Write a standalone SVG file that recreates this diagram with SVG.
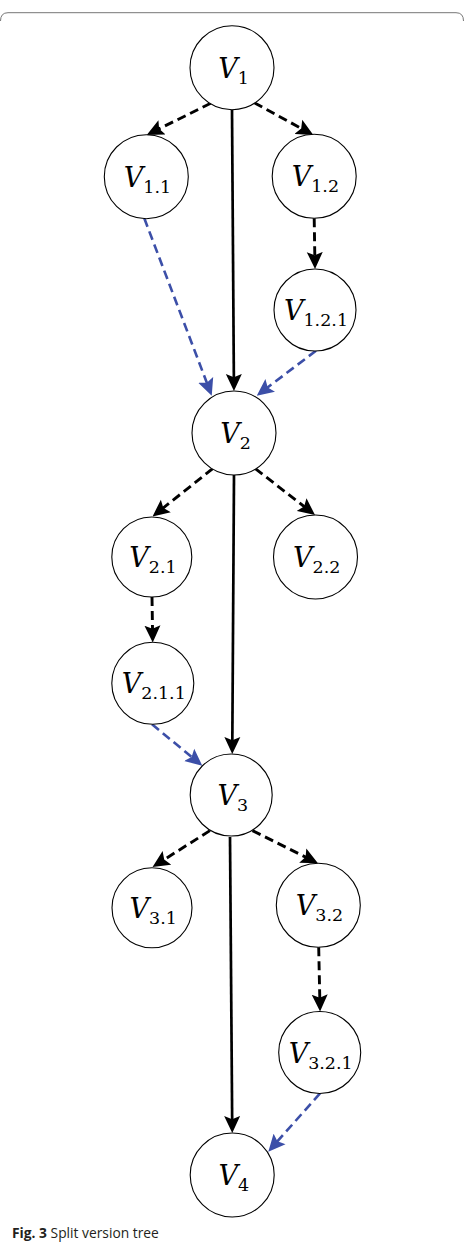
<svg xmlns="http://www.w3.org/2000/svg" width="464" height="1244" viewBox="0 0 464 1244">
  <style>
    .node circle { fill: #ffffff; stroke: #000000; stroke-width: 1.1; }
    .node text { font-family: "DejaVu Serif", "Liberation Serif", serif; font-size: 27px; fill: #000000; text-anchor: middle; }
    .node .v { font-style: italic; }
    .node .s { font-size: 17.5px; font-style: normal; }
    .solid { stroke: #000000; stroke-width: 2.7; fill: none; }
    .dash { stroke: #000000; stroke-width: 2.9; fill: none; stroke-dasharray: 9 5; }
    .blue { stroke: #3c4fa8; stroke-width: 2.6; fill: none; stroke-dasharray: 9 5; }
    .caption { font-family: "Open Sans", "Liberation Sans", sans-serif; font-size: 13.8px; fill: #231f20; }
  </style>
  <defs>
    <marker id="ab" markerUnits="userSpaceOnUse" viewBox="0 0 17 17" refX="9" refY="8.5" markerWidth="17" markerHeight="17" orient="auto">
      <path d="M0,0.5 L17,8.5 L0,16.5 L3.2,8.5 z" fill="#000000"/>
    </marker>
    <marker id="au" markerUnits="userSpaceOnUse" viewBox="0 0 17 17" refX="9" refY="8.5" markerWidth="17" markerHeight="17" orient="auto">
      <path d="M0,0.5 L17,8.5 L0,16.5 L3.2,8.5 z" fill="#3c4fa8"/>
    </marker>
  </defs>

  <path d="M0.5,21 Q0.5,12.7 8,12.7 H456 Q463.5,12.7 463.5,21" fill="none" stroke="#777777" stroke-width="1"/>

  <g id="connectors">
    <line class="dash" x1="210.7" y1="103.3" x2="153.9" y2="131.4" marker-end="url(#ab)"/>
    <line class="dash" x1="254.3" y1="102.7" x2="306.3" y2="131.2" marker-end="url(#ab)"/>
    <line class="solid" x1="232" y1="109.7" x2="233.9" y2="383" marker-end="url(#ab)"/>
    <line class="dash" x1="314.2" y1="218.3" x2="314.9" y2="261" marker-end="url(#ab)"/>
    <line class="blue" x1="144.3" y1="218.3" x2="208.9" y2="388.2" marker-end="url(#au)"/>
    <line class="blue" x1="316" y1="350.7" x2="263.1" y2="390.9" marker-end="url(#au)"/>
    <line class="dash" x1="212.7" y1="468.6" x2="158.8" y2="511.5" marker-end="url(#ab)"/>
    <line class="dash" x1="255.3" y1="468.6" x2="308.7" y2="510.1" marker-end="url(#ab)"/>
    <line class="solid" x1="234" y1="475" x2="232.3" y2="746" marker-end="url(#ab)"/>
    <line class="dash" x1="152" y1="597" x2="152.6" y2="634.5" marker-end="url(#ab)"/>
    <line class="blue" x1="152" y1="724.3" x2="196.1" y2="760.6" marker-end="url(#au)"/>
    <line class="dash" x1="209.9" y1="830.6" x2="159.3" y2="862.7" marker-end="url(#ab)"/>
    <line class="dash" x1="252.5" y1="830.6" x2="310.8" y2="859.7" marker-end="url(#ab)"/>
    <line class="solid" x1="230" y1="837" x2="232.2" y2="1125" marker-end="url(#ab)"/>
    <line class="dash" x1="318.7" y1="947.3" x2="319.9" y2="1003.5" marker-end="url(#ab)"/>
    <line class="blue" x1="320" y1="1093.3" x2="273.6" y2="1145.7" marker-end="url(#au)"/>
  </g>

  <g id="V1" class="node">
    <circle cx="232" cy="67.7" r="42"/>
    <text x="233.5" y="77.7"><tspan class="v">V</tspan><tspan class="s" dy="6">1</tspan></text>
  </g>
  <g id="V1.1" class="node">
    <circle cx="146.3" cy="176.7" r="42"/>
    <text x="147.5" y="186.7"><tspan class="v">V</tspan><tspan class="s" dy="6">1.1</tspan></text>
  </g>
  <g id="V1.2" class="node">
    <circle cx="314.2" cy="176.3" r="42"/>
    <text x="315.4" y="186.3"><tspan class="v">V</tspan><tspan class="s" dy="6">1.2</tspan></text>
  </g>
  <g id="V1.2.1" class="node">
    <circle cx="315" cy="310" r="41"/>
    <text x="316" y="320"><tspan class="v">V</tspan><tspan class="s" dy="6">1.2.1</tspan></text>
  </g>
  <g id="V2" class="node">
    <circle cx="234" cy="433" r="42"/>
    <text x="235.5" y="443"><tspan class="v">V</tspan><tspan class="s" dy="6">2</tspan></text>
  </g>
  <g id="V2.1" class="node">
    <circle cx="151.8" cy="557" r="40"/>
    <text x="153" y="567"><tspan class="v">V</tspan><tspan class="s" dy="6">2.1</tspan></text>
  </g>
  <g id="V2.2" class="node">
    <circle cx="315.5" cy="557" r="42"/>
    <text x="316.7" y="567"><tspan class="v">V</tspan><tspan class="s" dy="6">2.2</tspan></text>
  </g>
  <g id="V2.1.1" class="node">
    <circle cx="152.8" cy="683.3" r="41"/>
    <text x="153.8" y="693.3"><tspan class="v">V</tspan><tspan class="s" dy="6">2.1.1</tspan></text>
  </g>
  <g id="V3" class="node">
    <circle cx="231.2" cy="795" r="41"/>
    <text x="232.7" y="805"><tspan class="v">V</tspan><tspan class="s" dy="6">3</tspan></text>
  </g>
  <g id="V3.1" class="node">
    <circle cx="152" cy="907.8" r="40"/>
    <text x="153.2" y="917.8"><tspan class="v">V</tspan><tspan class="s" dy="6">3.1</tspan></text>
  </g>
  <g id="V3.2" class="node">
    <circle cx="318.3" cy="905.3" r="42"/>
    <text x="319.5" y="915.3"><tspan class="v">V</tspan><tspan class="s" dy="6">3.2</tspan></text>
  </g>
  <g id="V3.2.1" class="node">
    <circle cx="319.7" cy="1052.5" r="41"/>
    <text x="320.7" y="1062.5"><tspan class="v">V</tspan><tspan class="s" dy="6">3.2.1</tspan></text>
  </g>
  <g id="V4" class="node">
    <circle cx="232.2" cy="1175" r="42"/>
    <text x="233.7" y="1185"><tspan class="v">V</tspan><tspan class="s" dy="6">4</tspan></text>
  </g>

  <text class="caption" x="12" y="1237.5"><tspan font-weight="bold">Fig. 3</tspan> Split version tree</text>
</svg>
